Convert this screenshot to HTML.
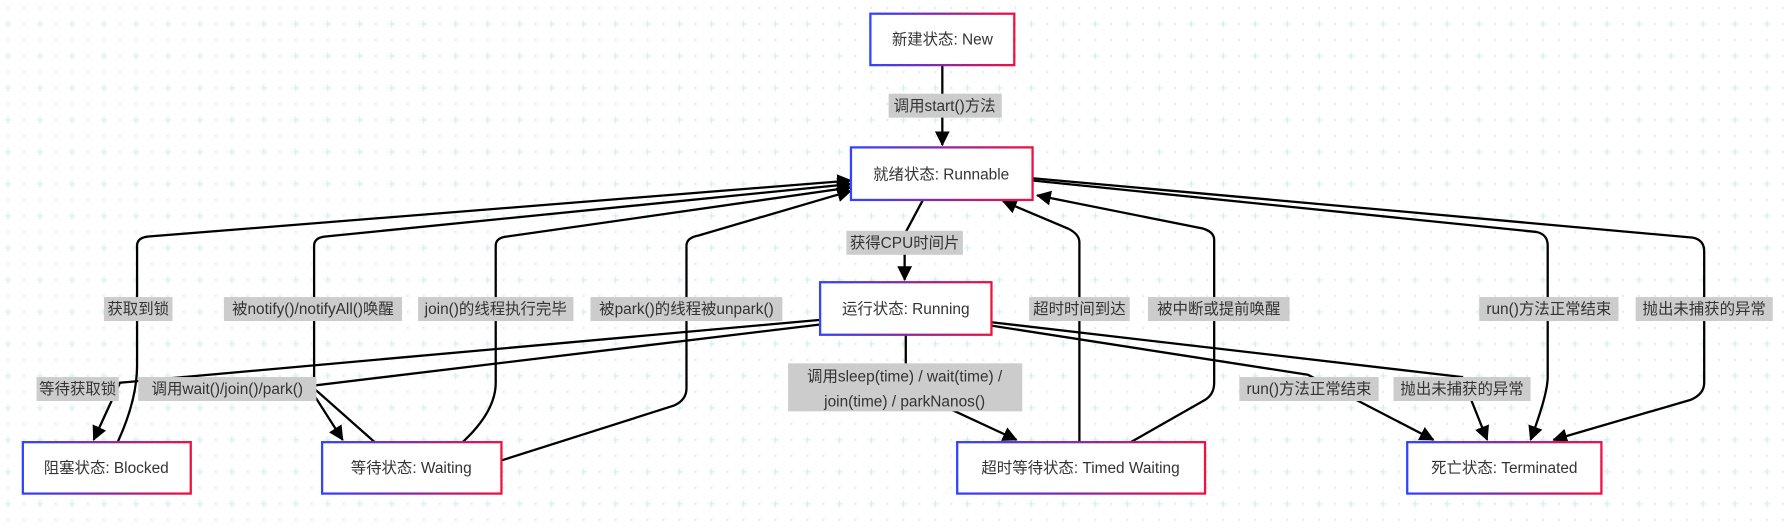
<!DOCTYPE html>
<html><head><meta charset="utf-8"><style>
html,body{margin:0;padding:0;background:#fff;}
svg{display:block;}
text{font-family:"Liberation Sans","Noto Sans CJK SC",sans-serif;font-size:13.5px;fill:#333;}
.lbl{fill:#cccccc;}
.e{fill:none;stroke:#000;stroke-width:2;}
.n{fill:#fff;stroke:url(#g);stroke-width:2;}
</style></head><body>
<svg width="1791" height="529" viewBox="0 0 1568 463" preserveAspectRatio="none">
<defs>
<linearGradient id="g" x1="0" x2="1" y1="0" y2="0"><stop offset="0" stop-color="#3344ff"/><stop offset="0.5" stop-color="#8a2aa0"/><stop offset="1" stop-color="#ee1144"/></linearGradient>
<pattern id="p" width="28" height="28" patternUnits="userSpaceOnUse">
<circle cx="7" cy="7" r="1" fill="#d6eef0"/><circle cx="21" cy="21" r="1" fill="#d6eef0"/><circle cx="21" cy="7" r="1" fill="#d6eef0"/>
<path d="M4 21h6M7 18v6" stroke="#d6eef0" stroke-width="1.2"/>
</pattern>
<marker id="a" markerWidth="13" markerHeight="13" refX="12" refY="6.5" orient="auto" markerUnits="userSpaceOnUse" viewBox="0 0 13 13"><path d="M0 0L13 6.5L0 13z" fill="#000"/></marker>
</defs>
<rect width="1568" height="463" fill="url(#p)"/>
<g class="e">
<path d="M825 57V127" marker-end="url(#a)"/>
<path d="M808 175L792 205V245" marker-end="url(#a)"/>
<path d="M718 280L105 335L82 385" marker-end="url(#a)"/>
<path d="M718 284L270 338L300 385" marker-end="url(#a)"/>
<path d="M103 387Q120 350 120 320V215Q120 208 130 207L745 158" marker-end="url(#a)"/>
<path d="M328 387L275 340V215Q275 208 285 207L745 161" marker-end="url(#a)"/>
<path d="M405 387Q434 360 434 335V215Q434 208 444 207L745 164" marker-end="url(#a)"/>
<path d="M439 403L590 355Q601 350 601 340V215Q601 208 612 206L745 167" marker-end="url(#a)"/>
<path d="M945 387V212Q945 205 935 200L878 176" marker-end="url(#a)"/>
<path d="M990 387L1055 350Q1063 345 1063 335V210Q1063 203 1053 200L908 171" marker-end="url(#a)"/>
<path d="M793 293V340L890 385" marker-end="url(#a)"/>
<path d="M868 285L1145 328L1255 385" marker-end="url(#a)"/>
<path d="M868 282L1280 330L1302 385" marker-end="url(#a)"/>
<path d="M904 158L1345 203Q1355 205 1355 215V330Q1355 345 1340 385" marker-end="url(#a)"/>
<path d="M904 156L1482 208Q1492 210 1492 220V335Q1492 345 1480 350L1360 385" marker-end="url(#a)"/>
</g>
<g>
<rect class="n" x="762" y="12" width="126" height="45"/><text x="825" y="39" text-anchor="middle">新建状态: New</text>
<rect class="n" x="745" y="129" width="159" height="46"/><text x="824" y="157" text-anchor="middle">就绪状态: Runnable</text>
<rect class="n" x="718" y="247" width="150" height="46"/><text x="793" y="275" text-anchor="middle">运行状态: Running</text>
<rect class="n" x="20" y="387" width="147" height="45"/><text x="93" y="414" text-anchor="middle">阻塞状态: Blocked</text>
<rect class="n" x="282" y="387" width="157" height="45"/><text x="360" y="414" text-anchor="middle">等待状态: Waiting</text>
<rect class="n" x="838" y="387" width="217" height="45"/><text x="946" y="414" text-anchor="middle">超时等待状态: Timed Waiting</text>
<rect class="n" x="1232" y="387" width="170" height="45"/><text x="1317" y="414" text-anchor="middle">死亡状态: Terminated</text>
</g>
<g text-anchor="middle">
<rect class="lbl" x="778" y="82" width="99" height="21"/><text x="827" y="97">调用start()方法</text>
<rect class="lbl" x="741" y="202" width="102" height="21"/><text x="792" y="217">获得CPU时间片</text>
<rect class="lbl" x="32" y="330" width="72" height="21"/><text x="68" y="345">等待获取锁</text>
<rect class="lbl" x="121" y="330" width="156" height="21"/><text x="199" y="345">调用wait()/join()/park()</text>
<rect class="lbl" x="91" y="260" width="60" height="21"/><text x="121" y="275">获取到锁</text>
<rect class="lbl" x="196" y="260" width="156" height="21"/><text x="274" y="275">被notify()/notifyAll()唤醒</text>
<rect class="lbl" x="366" y="260" width="136" height="21"/><text x="434" y="275">join()的线程执行完毕</text>
<rect class="lbl" x="517" y="260" width="168" height="21"/><text x="601" y="275">被park()的线程被unpark()</text>
<rect class="lbl" x="901" y="260" width="88" height="21"/><text x="945" y="275">超时时间到达</text>
<rect class="lbl" x="1005" y="260" width="124" height="21"/><text x="1067" y="275">被中断或提前唤醒</text>
<rect class="lbl" x="690" y="318" width="205" height="42"/><text x="792" y="334">调用sleep(time) / wait(time) /</text><text x="792" y="356">join(time) / parkNanos()</text>
<rect class="lbl" x="1085" y="330" width="122" height="21"/><text x="1146" y="345">run()方法正常结束</text>
<rect class="lbl" x="1220" y="330" width="120" height="21"/><text x="1280" y="345">抛出未捕获的异常</text>
<rect class="lbl" x="1295" y="260" width="122" height="21"/><text x="1356" y="275">run()方法正常结束</text>
<rect class="lbl" x="1432" y="260" width="120" height="21"/><text x="1492" y="275">抛出未捕获的异常</text>
</g>
</svg>
</body></html>
